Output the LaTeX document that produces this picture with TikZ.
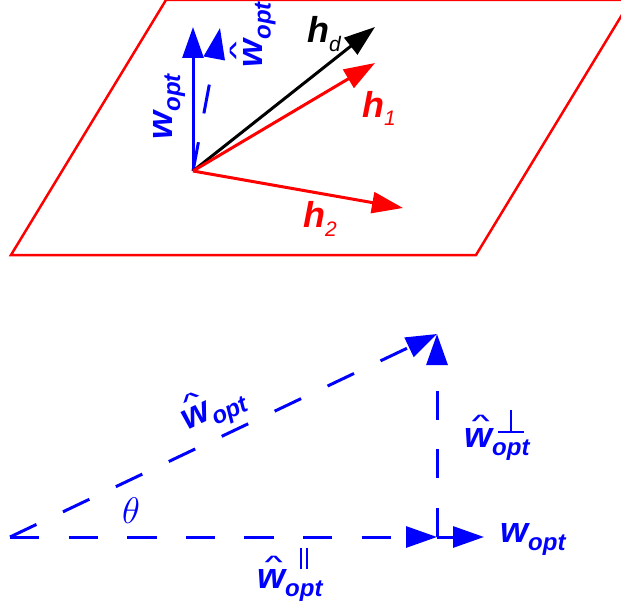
\documentclass[tikz,border=0pt]{standalone}
\usepackage{fix-cm}
\usepackage{graphicx}
\usepackage{fontspec}
\setmainfont{Liberation Sans}
\usetikzlibrary{arrows.meta}
\definecolor{vblue}{RGB}{0,0,255}
\definecolor{vred}{RGB}{255,0,0}
\newcommand{\Opt}{\raisebox{-8pt}{\fontsize{24}{24}\selectfont opt}}
\newcommand{\OptSup}[2]{\raisebox{-8pt}{\fontsize{24}{24}\selectfont\setbox0\hbox{opt}\rlap{\hbox to\wd0{\hss\raisebox{#2}{#1}\hss}}\box0}}
\newcommand{\Hsub}[1]{\raisebox{-9pt}{\fontsize{21}{21}\selectfont\mdseries #1}}
\newcommand{\What}{\setbox2\hbox{w}\rlap{\hbox to\wd2{\hss\kern5pt\raisebox{22pt}{\scalebox{1.1}[0.5]{\fontsize{30}{30}\selectfont\bfseries\upshape\textasciicircum}}\hss}}\box2}
\newcommand{\PerpSym}{\hbox{\rlap{\rule{26pt}{2pt}}\kern12pt\rule{2pt}{23pt}\kern12pt}}
\newcommand{\ParSym}{\hbox{\rule{1.8pt}{21pt}\kern4.5pt\rule{1.8pt}{21pt}}}
\tikzset{
 vec/.style={line width=3pt,-{Triangle[length=31pt,width=21pt]}},
 dvec/.style={vec, dash pattern=on 29.3pt off 29.3pt},
 plane/.style={draw=vred, line width=2.5pt, line join=miter},
 vlabel/.style={inner sep=0pt, font=\fontsize{36}{36}\selectfont\bfseries\itshape},
}
\begin{document}
\begin{tikzpicture}[x=1pt,y=-1pt]
\useasboundingbox (0,0) rectangle (621,602);
\begin{scope}
\clip (0,0) rectangle (621,602);
\draw[plane] (11,255) -- (166,0) -- (631,0) -- (476,255) -- cycle;
\end{scope}
% top vectors
\coordinate (O) at (193,171);
\coordinate (W) at (193,27);
\coordinate (Wh) at (220,28);
\coordinate (Hd) at (375,27);
\coordinate (H1) at (375,63);
\coordinate (H2) at (403,208);
\draw[vec, color=vblue] (O) -- (W);
\draw[dvec, color=vblue] (O) -- (Wh);
\draw[vec, color=black] (O) -- (Hd);
\draw[vec, color=vred] (O) -- (H1);
\draw[vec, color=vred] (O) -- (H2);
\node[vlabel, text=vblue, rotate=90] (lwtop) at (169,107) {w\Opt};
\node[vlabel, text=vblue, rotate=90] (lwhtop) at (253,35) {\What\Opt};
\node[vlabel, text=black, anchor=base west] (lhd) at (307,43) {h\Hsub{d}};
\node[vlabel, text=vred, anchor=base west] (lh1) at (362,117) {h\Hsub{1}};
\node[vlabel, text=vred, anchor=base west] (lh2) at (303,227) {h\Hsub{2}};
% bottom triangle
\coordinate (B) at (10,537);
\coordinate (P) at (437,537);
\coordinate (T) at (437,334);
\coordinate (E) at (484,537);
\draw[dvec, color=vblue] (B) -- (P);
\draw[vec, color=vblue] (P) -- (E);
\draw[dvec, color=vblue] (P) -- (T);
\draw[dvec, color=vblue] (B) -- (T);
\node[vlabel, text=vblue, rotate=25.4] (lhyp) at (213,408) {\What\Opt};
\node[vlabel, text=vblue, anchor=base west] (lperp) at (464,447) {\What\OptSup{\PerpSym}{22pt}};
\node[vlabel, text=vblue, anchor=base west] (lpar) at (257,588) {\What\OptSup{\ParSym}{27pt}};
\node[vlabel, text=vblue, anchor=base west] (lw) at (500,542) {w\Opt};
\node[text=vblue, inner sep=0pt, font=\fontsize{37}{37}\selectfont] (th) at (131,511) {$\theta$};
\end{tikzpicture}
\end{document}
